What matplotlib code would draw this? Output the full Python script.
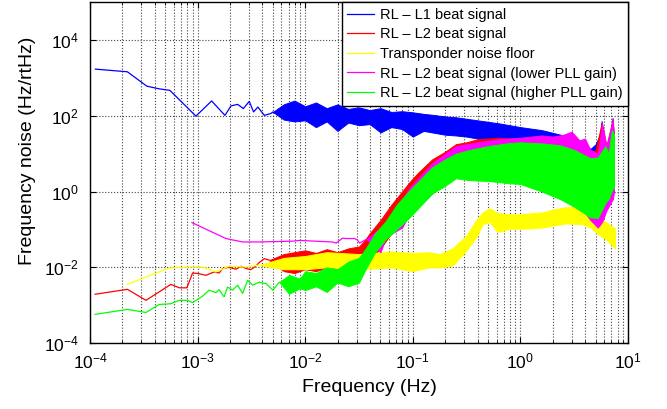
import numpy as np
import matplotlib
matplotlib.use('Agg')
import matplotlib.pyplot as plt
from matplotlib.ticker import FixedLocator, LogLocator, NullFormatter

plt.rcParams['font.family'] = ['Liberation Sans', 'DejaVu Sans']
plt.rcParams['mathtext.fontset'] = 'custom'
plt.rcParams['mathtext.rm'] = 'Liberation Sans'
plt.rcParams['mathtext.it'] = 'Liberation Sans'

# values, stored as log10(f [Hz]) and log10(noise [Hz/rtHz])
# clean low frequency parts
l1_lf = [-3.95, -3.653, -3.472, -3.358, -3.258, -3.016, -2.87, -2.746, -2.69, -2.628, -2.575,
         -2.52, -2.48, -2.44, -2.38, -2.32, -2.3]
l1_lv = [3.23, 3.16, 2.78, 2.71, 2.67, 1.99, 2.39, 2.01, 2.26, 2.30, 2.19,
         2.38, 2.10, 2.23, 2.01, 2.06, 2.1]

l2_lf = [-3.953, -3.653, -3.48, -3.249, -3.17, -3.10, -3.047, -3.0, -2.923, -2.845, -2.80,
         -2.768, -2.706, -2.643, -2.597, -2.55, -2.504, -2.457, -2.43, -2.38, -2.334]
l2_lv = [-2.71, -2.58, -2.87, -2.45, -2.54, -2.54, -2.15, -2.16, -2.21, -2.12, -2.15,
         -2.03, -2.0, -2.05, -1.97, -2.03, -2.06, -1.96, -1.88, -1.77, -1.81]

tr_lf = [-3.653, -3.267, -3.094, -2.954, -2.83, -2.706, -2.55, -2.427]
tr_lv = [-2.45, -2.02, -1.99, -1.99, -2.12, -1.97, -1.99, -1.94]

lo_lf = [-3.053, -2.737, -2.582, -2.43, -2.12, -2.054, -1.747, -1.712, -1.654, -1.62, -1.54,
         -1.514, -1.495, -1.43]
lo_lv = [-0.82, -1.24, -1.33, -1.33, -1.31, -1.29, -1.33, -1.36, -1.23, -1.24, -1.24,
         -1.28, -1.36, -1.26]

hi_lf = [-3.953, -3.653, -3.48, -3.358, -3.249, -3.171, -3.094, -3.047, -2.954, -2.892, -2.83,
         -2.80, -2.754, -2.722, -2.675, -2.628, -2.582, -2.535, -2.489, -2.427, -2.364,
         -2.30, -2.24]
hi_lv = [-3.24, -3.11, -3.19, -2.98, -2.96, -2.87, -2.87, -2.93, -2.76, -2.60, -2.67,
         -2.59, -2.78, -2.52, -2.60, -2.47, -2.69, -2.34, -2.47, -2.39, -2.43,
         -2.60, -2.39]

# noisy high frequency parts: upper / lower envelopes
l1_bf = [-2.3, -2.2, -2.1, -2.0, -1.9, -1.8, -1.7, -1.6, -1.5, -1.4, -1.3, -1.2, -1.1, -1.0,
         -0.9, -0.8, -0.7, -0.6, -0.5, -0.4, -0.3, -0.2, -0.1, 0.0, 0.1, 0.2, 0.3, 0.4, 0.5,
         0.6, 0.65, 0.7, 0.74, 0.755, 0.77, 0.8, 0.84, 0.857, 0.87]
l1_bu = [2.1, 2.3, 2.4, 2.25, 2.35, 2.2, 2.3, 2.18, 2.22, 2.15, 2.2, 2.1, 2.12, 2.09,
         2.05, 2.02, 1.98, 1.96, 1.92, 1.88, 1.84, 1.8, 1.75, 1.7, 1.66, 1.62, 1.55, 1.48, 1.38,
         1.3, 1.12, 1.25, 1.5, 1.86, 1.4, 1.2, 1.5, 1.94, 1.4]
l1_bl = [2.1, 1.9, 1.85, 1.88, 1.7, 1.85, 1.6, 1.82, 1.75, 1.78, 1.56, 1.7, 1.65, 1.45,
         1.6, 1.55, 1.5, 1.48, 1.45, 1.4, 1.38, 1.35, 1.3, 1.28, 1.2, 1.2, 1.1, 1.0, 0.95,
         0.9, 0.8, 0.8, 0.8, 1.0, 0.8, 0.7, 0.8, 1.0, 1.0]

l2_bf = [-2.334, -2.2, -2.1, -2.0, -1.9, -1.8, -1.7, -1.6, -1.5, -1.45, -1.4, -1.3, -1.25,
         -1.2, -1.1, -1.03, -0.95, -0.82, -0.7, -0.6, -0.5, -0.4, -0.3, -0.2, -0.1, 0.0, 0.2,
         0.4, 0.55, 0.65, 0.7, 0.755, 0.8, 0.857, 0.87]
l2_bu = [-1.81, -1.65, -1.6, -1.55, -1.62, -1.52, -1.6, -1.5, -1.45, -1.3, -1.1, -0.75, -0.55,
         -0.35, 0.0, 0.25, 0.5, 0.85, 1.05, 1.25, 1.3, 1.38, 1.4, 1.42, 1.4, 1.4, 1.35,
         1.28, 1.2, 1.0, 1.1, 1.8, 1.2, 1.9, 1.3]
l2_bl = [-1.81, -2.1, -2.15, -2.05, -2.1, -2.0, -2.05, -1.95, -1.95, -1.9, -1.8, -1.5, -1.3,
         -1.1, -0.8, -0.5, -0.3, 0.0, 0.2, 0.4, 0.45, 0.45, 0.4, 0.35, 0.3, 0.3, 0.15,
         0.0, -0.2, -0.5, -0.4, -0.4, -0.4, 0.0, 0.2]

tr_bf = [-2.427, -2.2, -2.0, -1.8, -1.5, -1.2, -1.0, -0.85, -0.75, -0.63, -0.5, -0.41, -0.35,
         -0.285, -0.21, -0.1, 0.0, 0.1, 0.2, 0.3, 0.43, 0.58, 0.65, 0.71, 0.79, 0.88]
tr_bu = [-1.94, -1.75, -1.7, -1.6, -1.65, -1.58, -1.62, -1.6, -1.65, -1.5, -1.15, -0.75, -0.55,
         -0.44, -0.57, -0.6, -0.6, -0.57, -0.55, -0.48, -0.41, -0.42, -0.5, -0.62, -0.8, -0.97]
tr_bl = [-1.94, -2.05, -2.05, -2.0, -2.05, -2.0, -2.1, -2.0, -2.0, -1.95, -1.55, -1.2, -0.86,
         -0.81, -1.07, -0.98, -0.98, -0.97, -0.95, -0.9, -0.84, -0.86, -0.95, -1.1, -1.25, -1.5]

lo_bf = [-1.43, -1.3, -1.25, -1.1, -1.03, -0.82, -0.6, -0.4, -0.2, 0.0, 0.1, 0.2, 0.3, 0.4,
         0.476, 0.55, 0.6, 0.65, 0.72, 0.76, 0.8, 0.86, 0.87]
lo_bu = [-1.26, -0.95, -0.8, -0.2, 0.1, 0.75, 1.2, 1.3, 1.38, 1.42, 1.45, 1.48, 1.45, 1.5,
         1.58, 1.35, 1.4, 1.1, 1.0, 1.8, 1.2, 1.9, 1.2]
lo_bl = [-1.26, -1.6, -1.2, -0.95, -0.6, -0.05, 0.45, 0.45, 0.4, 0.25, 0.2, 0.0, -0.05, -0.2,
         -0.3, -0.4, -0.55, -0.75, -0.95, -0.8, -0.5, -0.2, 0.0]

hi_bf = [-2.24, -2.15, -2.05, -2.0, -1.9, -1.8, -1.7, -1.6, -1.5, -1.43, -1.35, -1.25, -1.15,
         -1.03, -0.92, -0.82, -0.7, -0.6, -0.47, -0.3, -0.1, 0.0, 0.2, 0.37, 0.5, 0.65, 0.72,
         0.79, 0.82, 0.85, 0.87]
hi_bu = [-2.39, -2.2, -2.3, -2.1, -2.15, -2.0, -2.05, -1.85, -1.75, -1.47, -1.1, -0.78, -0.35,
         0.03, 0.35, 0.64, 0.85, 1.0, 1.1, 1.2, 1.28, 1.3, 1.27, 1.22, 1.1, 0.88, 0.9,
         1.2, 1.0, 1.62, 1.5]
hi_bl = [-2.39, -2.7, -2.55, -2.6, -2.5, -2.65, -2.4, -2.5, -2.4, -2.0, -1.6, -1.25, -1.0,
         -0.68, -0.35, -0.05, 0.15, 0.35, 0.3, 0.28, 0.22, 0.2, 0.0, -0.2, -0.4, -0.68, -0.7,
         -0.3, -0.2, 0.03, 0.1]

labels = ['RL \u2013 L1 beat signal', 'RL \u2013 L2 beat signal', 'Transponder noise floor',
          'RL \u2013 L2 beat signal (lower PLL gain)', 'RL \u2013 L2 beat signal (higher PLL gain)']
colours = ['#0000ff', '#ff0000', '#ffff00', '#ff00ff', '#00ff00']

series = [(l1_lf, l1_lv, l1_bf, l1_bu, l1_bl),
          (l2_lf, l2_lv, l2_bf, l2_bu, l2_bl),
          (tr_lf, tr_lv, tr_bf, tr_bu, tr_bl),
          (lo_lf, lo_lv, lo_bf, lo_bu, lo_bl),
          (hi_lf, hi_lv, hi_bf, hi_bu, hi_bl)]

fig = plt.figure(figsize=(6.67, 4.09), dpi=100)
ax = fig.add_axes([0.135, 0.161, 0.8065, 0.834])
ax.set_axisbelow(True)

for (lf, lv, bf, bu, bl), c, lab in zip(series, colours, labels):
    ax.plot(10 ** np.array(lf), 10 ** np.array(lv), color=c, lw=0.9, label=lab)
    ax.fill_between(10 ** np.array(bf), 10 ** np.array(bl), 10 ** np.array(bu),
                    color=c, lw=0.7, edgecolor=c)

ax.set_xscale('log')
ax.set_yscale('log')
ax.set_xlim(1e-4, 1e1)
ax.set_ylim(1e-4, 1e5)
ax.yaxis.set_major_locator(FixedLocator([1e-4, 1e-2, 1e0, 1e2, 1e4]))
ax.yaxis.set_minor_locator(FixedLocator([]))
ax.xaxis.set_major_locator(LogLocator(base=10, numticks=10))
ax.xaxis.set_minor_locator(LogLocator(base=10, subs=np.arange(2, 10), numticks=20))
ax.xaxis.set_minor_formatter(NullFormatter())

ax.grid(True, which='major', ls=':', color='#444444', lw=0.8)
ax.grid(True, which='minor', axis='x', ls=':', color='#444444', lw=0.8)
ax.tick_params(which='both', direction='in', top=True, right=True, labelsize=12.5)
ax.tick_params(which='major', length=4)
ax.tick_params(which='minor', length=2)
ax.tick_params(axis='x', pad=6)
ax.tick_params(axis='y', pad=8)
for s in ax.spines.values():
    s.set_linewidth(1.0)

ax.set_xlabel('Frequency (Hz)', fontsize=14)
ax.set_ylabel('Frequency noise (Hz/rtHz)', fontsize=14)
ax.xaxis.set_label_coords(0.52, -0.105)
ax.yaxis.set_label_coords(-0.10, 0.563)

leg = ax.legend(loc='upper right', fontsize=10.5, borderaxespad=0, fancybox=False,
                framealpha=1, edgecolor='black', handlelength=1.85, labelspacing=0.38,
                borderpad=0.4, handletextpad=0.35)
leg.get_frame().set_linewidth(1.0)

fig.savefig('out.png', dpi=100)
